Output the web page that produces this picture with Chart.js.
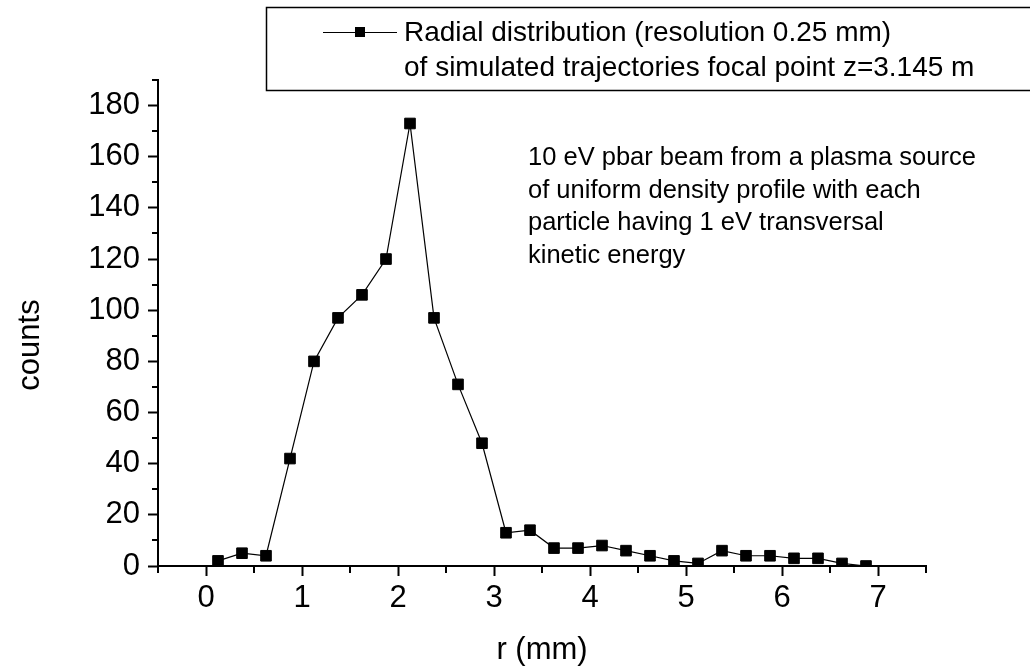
<!DOCTYPE html>
<html>
<head>
<meta charset="utf-8">
<script src="https://cdn.jsdelivr.net/npm/chart.js@4.4.1/dist/chart.umd.min.js"></script>
<style>
  body { margin: 0; background: #fff; }
  #wrap { width: 1030px; height: 670px; position: relative; }
</style>
</head>
<body>
<div id="wrap"><canvas id="chart"></canvas></div>
<script>
// bin centres (mm) and counts
const rValues = [0.125, 0.375, 0.625, 0.875, 1.125, 1.375, 1.625, 1.875, 2.125, 2.375,
                 2.625, 2.875, 3.125, 3.375, 3.625, 3.875, 4.125, 4.375, 4.625, 4.875,
                 5.125, 5.375, 5.625, 5.875, 6.125, 6.375, 6.625, 6.875];
const counts = [2, 5, 4, 42, 80, 97, 106, 120, 173, 97,
                71, 48, 13, 14, 7, 7, 8, 6, 4, 2,
                1, 6, 4, 4, 3, 3, 1, 0];

const legendLines = ['Radial distribution (resolution 0.25 mm)',
                     'of simulated trajectories focal point z=3.145 m'];
const noteLines = ['10 eV pbar beam from a plasma source',
                   'of uniform density profile with each',
                   'particle having 1 eV transversal',
                   'kinetic energy'];
const xTitle = 'r (mm)';
const yTitle = 'counts';

const FONT = '"Liberation Sans", Arial, Helvetica, sans-serif';

const points = rValues.map((r, i) => ({ x: r, y: counts[i] }));

const isMajorX = v => Math.abs(v - Math.round(v)) < 1e-9;
const isMajorY = v => v % 20 === 0 && v <= 180;

// minor ticks, legend box, annotation and axis titles
const extras = {
    id: 'extras',
    afterDraw(chart) {
        const ctx = chart.ctx;
        const xs = chart.scales.x, ys = chart.scales.y;
        ctx.save();
        ctx.strokeStyle = '#000';
        ctx.lineWidth = 2;
        ctx.beginPath();
        xs.ticks.forEach(t => {
            if (isMajorX(t.value)) return;
            const px = Math.round(xs.getPixelForValue(t.value));
            ctx.moveTo(px, ys.bottom);
            ctx.lineTo(px, ys.bottom + 7);
        });
        ys.ticks.forEach(t => {
            if (isMajorY(t.value)) return;
            const py = Math.round(ys.getPixelForValue(t.value));
            ctx.moveTo(xs.left, py);
            ctx.lineTo(xs.left - 6, py);
        });
        ctx.stroke();

        // legend
        ctx.lineWidth = 1.5;
        ctx.strokeRect(266.5, 7.5, 800, 83);
        ctx.lineWidth = 1;
        ctx.beginPath();
        ctx.moveTo(323, 32.5);
        ctx.lineTo(397, 32.5);
        ctx.stroke();
        ctx.fillStyle = '#000';
        ctx.fillRect(355, 27, 10, 10);
        ctx.font = '28px ' + FONT;
        ctx.textBaseline = 'middle';
        ctx.textAlign = 'left';
        ctx.fillText(legendLines[0], 404, 33);
        ctx.fillText(legendLines[1], 404, 68);

        // annotation
        ctx.font = '25.5px ' + FONT;
        noteLines.forEach((s, i) => ctx.fillText(s, 528, 158 + i * 32.7));

        // axis titles
        ctx.font = '31px ' + FONT;
        ctx.textAlign = 'center';
        ctx.fillText(xTitle, 542, 650);
        ctx.translate(30, 345);
        ctx.rotate(-Math.PI / 2);
        ctx.fillText(yTitle, 0, 0);
        ctx.restore();
    }
};

new Chart(document.getElementById('chart'), {
    type: 'scatter',
    data: {
        datasets: [{
            data: points,
            showLine: true,
            borderColor: '#000',
            borderWidth: 1.2,
            backgroundColor: '#000',
            pointStyle: 'rect',
            pointRadius: 7.5,
            pointBorderWidth: 1,
            pointBorderColor: '#000',
            pointBackgroundColor: '#000',
            tension: 0
        }]
    },
    options: {
        responsive: true,
        maintainAspectRatio: false,
        animation: false,
        layout: { padding: { top: 80, right: 104, left: 0, bottom: 0 } },
        plugins: { legend: { display: false }, tooltip: { enabled: false } },
        scales: {
            x: {
                type: 'linear',
                min: -0.5,
                max: 7.5,
                afterFit: s => { s.height = 104; },
                ticks: {
                    stepSize: 0.5,
                    autoSkip: false,
                    maxRotation: 0,
                    padding: 4,
                    color: '#000',
                    font: { family: FONT, size: 31 },
                    callback: v => isMajorX(v) ? String(Math.round(v)) : ''
                },
                grid: {
                    drawOnChartArea: false,
                    tickLength: 10,
                    tickWidth: 2,
                    tickColor: c => isMajorX(c.tick.value) ? '#000' : 'rgba(0,0,0,0)'
                },
                border: { color: '#000', width: 2 }
            },
            y: {
                min: 0,
                max: 190,
                afterFit: s => { s.width = 158; },
                ticks: {
                    stepSize: 10,
                    autoSkip: false,
                    padding: 8,
                    color: '#000',
                    font: { family: FONT, size: 31 },
                    callback: v => isMajorY(v) ? String(v) : ''
                },
                grid: {
                    drawOnChartArea: false,
                    tickLength: 10,
                    tickWidth: 2,
                    tickColor: c => isMajorY(c.tick.value) ? '#000' : 'rgba(0,0,0,0)'
                },
                border: { color: '#000', width: 2 }
            }
        }
    },
    plugins: [extras]
});
</script>
</body>
</html>
